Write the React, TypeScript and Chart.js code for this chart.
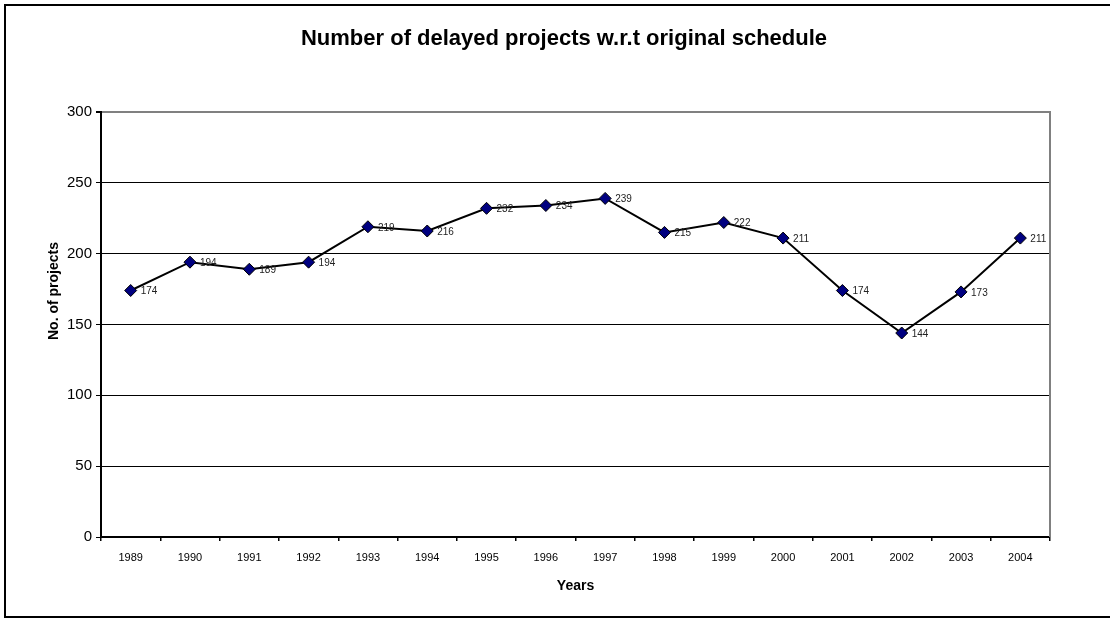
import React, { useEffect, useRef } from "react";
import { Chart, registerables } from "chart.js";

Chart.register(...registerables);

const years = ["1989", "1990", "1991", "1992", "1993", "1994", "1995", "1996", "1997", "1998", "1999", "2000", "2001", "2002", "2003", "2004"];
const delayedProjects = [174, 194, 189, 194, 219, 216, 232, 234, 239, 215, 222, 211, 174, 144, 173, 211];
const chartTitle = "Number of delayed projects w.r.t original schedule";
const xTitle = "Years";
const yTitle = "No. of projects";
const yMin = 0;
const yMax = 300;
const yStep = 50;

const FONT = "'Liberation Sans', Arial, sans-serif";

const decorPlugin = {
  id: "decor",
  beforeDraw(chart: any) {
    const ctx = chart.ctx;
    ctx.save();
    ctx.fillStyle = "#ffffff";
    ctx.fillRect(0, 0, chart.width, chart.height);
    ctx.strokeStyle = "#000000";
    ctx.lineWidth = 2;
    ctx.strokeRect(5, 5, chart.width + 10, chart.height - 7);
    ctx.restore();
  },
  afterDraw(chart: any) {
    const ctx = chart.ctx;
    const a = chart.chartArea;
    ctx.save();
    // right border of plot area
    ctx.strokeStyle = "#808080";
    ctx.lineWidth = 2;
    ctx.beginPath();
    ctx.moveTo(a.right, a.top - 1);
    ctx.lineTo(a.right, a.bottom);
    ctx.stroke();
    // chart title
    ctx.fillStyle = "#000000";
    ctx.font = `bold 22px ${FONT}`;
    ctx.textAlign = "center";
    ctx.textBaseline = "middle";
    ctx.fillText(chartTitle, 564, 39);
    // y axis title
    ctx.font = `bold 14px ${FONT}`;
    ctx.translate(58, 340);
    ctx.rotate(-Math.PI / 2);
    ctx.textAlign = "left";
    ctx.textBaseline = "alphabetic";
    ctx.fillText(yTitle, 0, 0);
    ctx.restore();
  },
  afterDatasetsDraw(chart: any) {
    const ctx = chart.ctx;
    const meta = chart.getDatasetMeta(0);
    const data = chart.data.datasets[0].data;
    ctx.save();
    ctx.fillStyle = "#222222";
    ctx.font = `10px ${FONT}`;
    ctx.textAlign = "left";
    ctx.textBaseline = "middle";
    meta.data.forEach((pt: any, i: number) => {
      ctx.fillText(String(data[i]), pt.x + 10, pt.y + 1);
    });
    ctx.restore();
  },
};

export default function App() {
  const ref = useRef<HTMLCanvasElement>(null);
  useEffect(() => {
    document.body.style.margin = "0";
    const chart = new Chart(ref.current!, {
      type: "line",
      data: {
        labels: years,
        datasets: [
          {
            data: delayedProjects,
            borderColor: "#000000",
            borderWidth: 2,
            tension: 0,
            pointStyle: "rectRot",
            pointRadius: 6,
            pointBackgroundColor: "#000080",
            pointBorderColor: "#000000",
            pointBorderWidth: 1,
          },
        ],
      },
      options: {
        responsive: false,
        animation: false,
        layout: { padding: { left: 5, right: 60, top: 112, bottom: 0 } },
        plugins: {
          legend: { display: false },
          tooltip: { enabled: false },
          title: { display: false },
        },
        scales: {
          x: {
            type: "category",
            offset: true,
            grid: {
              offset: true,
              drawOnChartArea: false,
              drawTicks: true,
              tickLength: 4,
              color: "#000000",
              lineWidth: 1.5,
            },
            border: { color: "#000000", width: 2 },
            ticks: {
              color: "#000000",
              font: { family: FONT, size: 11 },
              padding: 10,
              maxRotation: 0,
              autoSkip: false,
            },
            title: {
              display: true,
              text: xTitle,
              color: "#000000",
              font: { family: FONT, size: 14, weight: "bold" },
              padding: { top: 0, bottom: 24.6 },
            },
            afterFit(scale: any) {
              scale.height = 82;
            },
          },
          y: {
            min: yMin,
            max: yMax,
            grid: {
              color: (c: any) => (c.tick && c.tick.value === yMax ? "#808080" : "#000000"),
              lineWidth: (c: any) => (c.tick && c.tick.value === yMax ? 2 : 1),
              tickLength: 5,
              tickColor: "#000000",
            },
            border: { color: "#000000", width: 2 },
            ticks: {
              stepSize: yStep,
              color: "#000000",
              font: { family: FONT, size: 15 },
              padding: 4,
            },
            afterFit(scale: any) {
              scale.width = 96;
            },
          },
        },
      },
      plugins: [decorPlugin],
    });
    return () => chart.destroy();
  }, []);
  return (
    <div style={{ width: 1110, height: 619 }}>
      <canvas ref={ref} width={1110} height={619} />
    </div>
  );
}
